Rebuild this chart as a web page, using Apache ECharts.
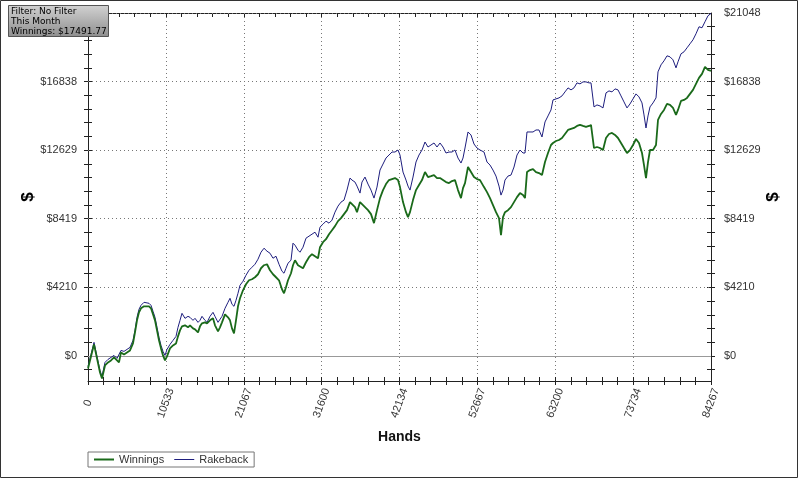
<!DOCTYPE html>
<html>
<head>
<meta charset="utf-8">
<script src="https://cdn.jsdelivr.net/npm/echarts@6/dist/echarts.min.js"></script>
<style>
  html, body { margin: 0; padding: 0; background: #fff; }
  #main { width: 799px; height: 479px; }
</style>
</head>
<body>
<div id="main"></div>
<script>
// hands played (x) and running totals in $
const hands = [
  0, 406, 812, 1217, 1623, 1894, 2299, 2705, 3111, 3517,
  3923, 4193, 4464, 4869, 5275, 5681, 6087, 6357, 6628, 6898,
  7169, 7575, 7845, 8251, 8521, 8792, 9062, 9333, 9603, 9874,
  10145, 10415, 10686, 11091, 11497, 11903, 12173, 12444, 12714, 13120,
  13526, 13797, 14202, 14473, 14879, 15149, 15420, 15825, 16096, 16502,
  16908, 17178, 17584, 17854, 18125, 18531, 18936, 19207, 19477, 19748,
  20018, 20289, 20560, 20965, 21371, 21777, 22183, 22588, 22994, 23400,
  23806, 24212, 24617, 25023, 25429, 25835, 26240, 26511, 26781, 27052,
  27458, 27728, 27999, 28405, 28675, 29081, 29487, 29892, 30298, 30704,
  31110, 31380, 31786, 32192, 32598, 33003, 33409, 33815, 34221, 34627,
  35032, 35438, 35709, 36114, 36385, 36791, 37061, 37467, 37873, 38279,
  38684, 39090, 39496, 39902, 40307, 40713, 41119, 41525, 41931, 42201,
  42607, 43013, 43283, 43554, 43960, 44365, 44771, 45177, 45583, 45988,
  46394, 46800, 47206, 47612, 48017, 48423, 48829, 49235, 49640, 50046,
  50452, 50723, 50993, 51399, 51805, 52210, 52616, 53022, 53563, 53969,
  54375, 54780, 55186, 55592, 55862, 56133, 56403, 56809, 57215, 57621,
  58027, 58432, 58838, 59109, 59379, 59785, 60191, 60596, 61002, 61408,
  61814, 62220, 62625, 62896, 63302, 63707, 64113, 64519, 64925, 65331,
  65736, 66142, 66548, 66954, 67359, 67765, 68036, 68442, 68847, 69253,
  69659, 70065, 70470, 70876, 71282, 71688, 72094, 72499, 72905, 73311,
  73717, 74122, 74528, 74934, 75205, 75475, 75746, 76016, 76422, 76828,
  77098, 77504, 77910, 78316, 78721, 79127, 79533, 79803, 80209, 80615,
  81021, 81427, 81832, 82238, 82644, 83050, 83455, 83861, 84267
];
const winnings = [
  -769, -31, 707, -154, -1015, -1384, -584, -400, -277, -92,
  -277, -400, 215, 92, 215, 338, 769, 1445, 2183, 2675,
  2921, 3044, 3106, 3044, 2921, 2552, 2183, 1568, 953, 461,
  31, -277, -31, 461, 646, 769, 1199, 1568, 1814, 1876,
  1753, 1876, 1691, 1630, 1445, 1814, 1999, 2060, 1999, 2183,
  2306, 1876, 1507, 1753, 2060, 2552, 2368, 2183, 1691, 1384,
  2183, 3044, 3536, 4028, 4397, 4643, 4705, 4828, 5012, 5381,
  5566, 5627, 5258, 5012, 4828, 4643, 4090, 3844, 4213, 4643,
  5074, 5566, 5873, 5566, 5504, 5381, 5750, 6058, 6242, 6119,
  5996, 6673, 6980, 7165, 7472, 7718, 7964, 8272, 8456, 8702,
  8948, 9440, 9317, 9133, 8825, 9440, 9317, 9133, 8948, 8702,
  8149, 8948, 9686, 10178, 10547, 10793, 10855, 10916, 10793, 10363,
  9440, 8825, 8518, 8825, 9563, 10178, 10486, 10793, 11285, 10978,
  11039, 11101, 10916, 10916, 10793, 10670, 10609, 10732, 10793, 10178,
  9686, 10301, 10609, 11593, 11285, 10978, 10855, 10793, 10363, 10055,
  9686, 9256, 8825, 8456, 7411, 8518, 8825, 8948, 9133, 9440,
  9748, 9994, 9871, 9686, 11285, 11408, 11470, 11285, 11224, 11101,
  11900, 12454, 12946, 13069, 13192, 13253, 13376, 13622, 13868, 13930,
  13991, 14114, 14176, 14114, 14053, 14114, 14176, 12761, 12823, 12761,
  12638, 13376, 13622, 13684, 13561, 13376, 13069, 12761, 12454, 12638,
  12946, 13315, 13069, 12454, 11716, 10916, 11900, 12638, 12638, 12946,
  14483, 14852, 15098, 15467, 15406, 15221, 14791, 15098, 15652, 15713,
  15836, 16082, 16328, 16697, 17066, 17312, 17743, 17558, 17492
];
const rakeback = [
  -646, 92, 830, -31, -892, -1261, -400, -215, -92, 31,
  -154, -215, 338, 277, 400, 523, 953, 1568, 2368, 2860,
  3106, 3290, 3352, 3229, 3106, 2737, 2368, 1753, 1138, 646,
  277, 31, 400, 707, 953, 1199, 1753, 2183, 2614, 2306,
  2429, 2368, 2183, 2306, 2060, 2183, 2429, 2183, 2060, 2429,
  2675, 2429, 2060, 2060, 2429, 2921, 3290, 3536, 3167, 3044,
  3413, 3844, 4336, 4582, 4951, 5258, 5443, 5627, 5935, 6365,
  6611, 6427, 6304, 5996, 6119, 5627, 5197, 5074, 5381, 5689,
  5873, 6919, 6796, 6488, 6365, 6673, 7226, 7349, 7472, 7595,
  7288, 7903, 8087, 8272, 8149, 8333, 8825, 9194, 9440, 9563,
  10178, 10916, 10793, 10670, 10424, 9994, 10670, 10978, 10547, 10178,
  9686, 10363, 11408, 11777, 12146, 12331, 12515, 12515, 12638, 12331,
  11285, 10793, 10424, 10178, 10978, 11900, 12331, 12638, 13130, 12823,
  12946, 13069, 12823, 13069, 12823, 12454, 12515, 12515, 12638, 12146,
  11839, 12146, 12761, 13745, 13561, 13007, 12761, 12638, 12515, 11900,
  11716, 11408, 11039, 10424, 9871, 10178, 10793, 11039, 11101, 11593,
  12331, 12638, 12454, 12454, 13745, 13745, 13745, 13868, 13868, 13438,
  14360, 14729, 15098, 15713, 15775, 15836, 15959, 16205, 16451, 16328,
  16451, 16759, 16697, 16820, 16820, 16759, 16759, 15283, 15406, 15344,
  15221, 16144, 16267, 16205, 16390, 16328, 15959, 15590, 15221, 15467,
  15775, 16082, 15898, 15529, 14791, 13991, 14729, 15283, 15529, 15836,
  17435, 17866, 18112, 18419, 18358, 18173, 17681, 18050, 18542, 18665,
  18911, 19157, 19403, 19772, 20203, 20141, 20510, 20879, 21020
];

const xTickLabels = ['0', '10533', '21067', '31600', '42134', '52667', '63200', '73734', '84267'];
const yTickLabels = ['$0', '$4210', '$8419', '$12629', '$16838', '$21048'];
const infoLines = ['Filter: No Filter', 'This Month', 'Winnings: $17491.77'];

const xMax = 84267;
const xStep = xMax / 8;
const yMax = 21048;
const yStep = yMax / 5;
const yMin = -1540;

const yMajor = yTickLabels.map((t, i) => i * yStep);
const yMinor = [];
for (let k = -5; k <= 25; k++) {
  const v = k * yStep / 5;
  if (v >= yMin && v <= yMax) yMinor.push(v);
}

const chart = echarts.init(document.getElementById('main'));

const axisColor = '#222';
const font = 'Liberation Sans';
const tickLine = { color: axisColor, width: 1 };
const greenColor = '#1a6a1a';
const blueColor = '#1e1e7e';

function xAxisBase(pos, inside, withLabels) {
  return {
    type: 'value', position: pos, min: 0, max: xMax, interval: xStep,
    axisLine: { show: withLabels || pos === 'top', onZero: false, lineStyle: { color: axisColor } },
    axisTick: { show: true, inside: inside, length: 4, lineStyle: tickLine },
    minorTick: { show: true, splitNumber: 5, length: 4, lineStyle: tickLine },
    axisLabel: { show: false },
    splitLine: { show: false }
  };
}

const xLabelled = Object.assign(xAxisBase('bottom', false, true), {
  axisLabel: {
    show: true, rotate: 70, align: 'center', verticalAlign: 'middle', margin: 22,
    showMinLabel: true, showMaxLabel: true,
    color: '#333', fontSize: 11, fontFamily: font,
    formatter: v => xTickLabels[Math.round(v / xStep)]
  },
  splitLine: { show: true, lineStyle: { color: '#777', type: [1, 3] } },
  name: 'Hands', nameLocation: 'middle', nameGap: 49, nameMoveOverlap: false,
  nameTextStyle: { fontWeight: 'bold', fontSize: 14, color: '#111', fontFamily: font }
});

function yAxisBase(pos, inside, withLabels) {
  const ax = {
    type: 'value', position: pos, min: yMin, max: yMax,
    axisLine: { show: withLabels, onZero: false, lineStyle: { color: axisColor } },
    axisTick: { show: true, inside: inside, length: 4, customValues: yMinor, lineStyle: tickLine },
    axisLabel: { show: false },
    splitLine: { show: false }
  };
  if (withLabels) {
    ax.axisLabel = {
      show: true, customValues: yMajor, margin: pos === 'left' ? 11 : 13,
      color: '#333', fontSize: 11, fontFamily: font,
      formatter: v => yTickLabels[Math.round(v / yStep)]
    };
    ax.name = '$';
    ax.nameLocation = 'middle';
    ax.nameRotate = 90;
    ax.nameMoveOverlap = false;
    ax.nameGap = pos === 'left' ? 51 : 54;
    ax.nameTextStyle = { fontWeight: 'bold', fontSize: 17, color: '#000', fontFamily: font };
  }
  return ax;
}

const gridLines = yMajor.map(v => (
  v === 0
    ? { yAxis: v, lineStyle: { color: '#999', type: 'solid', width: 1 } }
    : { yAxis: v, lineStyle: { color: '#777', type: [1, 3], width: 1 } }
));

const option = {
  animation: false,
  backgroundColor: '#fff',
  grid: { left: 88, right: 88, top: 13, bottom: 98, outerBoundsMode: 'none' },
  legend: {
    data: [
      { name: 'Winnings', icon: 'path://M0,0H20V2H0Z' },
      { name: 'Rakeback', icon: 'path://M0,0H20V1H0Z' }
    ],
    left: 88, top: 452,
    itemWidth: 20, itemHeight: 10, itemGap: 10,
    padding: [2, 6, 2, 6],
    borderColor: '#777', borderWidth: 1,
    textStyle: { fontSize: 11, color: '#333', fontFamily: font }
  },
  xAxis: [xLabelled, xAxisBase('bottom', true, false), xAxisBase('top', true, false)],
  yAxis: [
    yAxisBase('left', false, true),
    yAxisBase('right', false, true),
    yAxisBase('left', true, false),
    yAxisBase('right', true, false)
  ],
  series: [
    {
      name: 'Rakeback', type: 'line', symbol: 'none', z: 3,
      data: hands.map((h, i) => [h, rakeback[i]]),
      lineStyle: { color: blueColor, width: 1 },
      itemStyle: { color: blueColor }
    },
    {
      name: 'Winnings', type: 'line', symbol: 'none', z: 4,
      data: hands.map((h, i) => [h, winnings[i]]),
      lineStyle: { color: greenColor, width: 1.8 },
      itemStyle: { color: greenColor },
      markLine: {
        silent: true, symbol: 'none', label: { show: false }, z: 1,
        data: gridLines
      }
    }
  ],
  graphic: [
    {
      type: 'rect', silent: true,
      shape: { x: 0.5, y: 0.5, width: 797, height: 477 },
      style: { fill: 'none', stroke: '#333', lineWidth: 1 }
    },
    {
      type: 'rect', silent: true, z: 100,
      shape: { x: 8.5, y: 5.5, width: 100, height: 31 },
      style: {
        fill: new echarts.graphic.LinearGradient(0, 0, 0, 1, [
          { offset: 0, color: '#d2d2d2' },
          { offset: 1, color: '#8e8e8e' }
        ]),
        stroke: '#555', lineWidth: 1
      }
    },
    {
      type: 'text', silent: true, z: 101,
      x: 11, y: 7,
      style: {
        text: infoLines.join('\n'),
        font: '9px "DejaVu Sans"', lineHeight: 10, fill: '#000'
      }
    }
  ]
};

chart.setOption(option);
</script>
</body>
</html>
